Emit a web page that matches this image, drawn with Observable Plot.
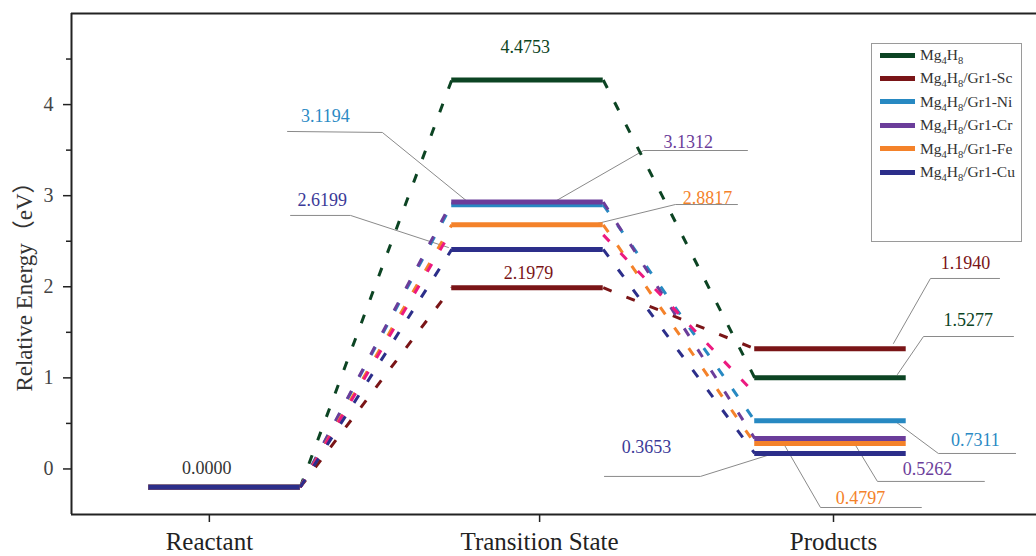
<!DOCTYPE html>
<html><head><meta charset="utf-8">
<script src="https://cdn.jsdelivr.net/npm/d3@7"></script>
<script src="https://cdn.jsdelivr.net/npm/@observablehq/plot@0.6"></script>
<style>
body{margin:0;background:#fff;}
#wrap{position:relative;width:1036px;height:556px;overflow:hidden;background:#fff;}
#legend{position:absolute;left:871px;top:43px;width:151px;height:199px;border:1px solid #9a9a9a;box-sizing:border-box;font-family:'Liberation Serif','Times New Roman',serif;font-size:15.5px;color:#333;background:#fff;}
.row{position:absolute;left:8px;height:20px;display:flex;align-items:center;white-space:nowrap;}
.sw{width:35px;height:5px;margin-right:5px;}
sub{font-size:0.68em;vertical-align:-0.35em;line-height:0;}
</style></head><body><div id="wrap"></div>
<script>
// ---------- data ----------
const series = ["Mg4H8","Mg4H8/Gr1-Sc","Mg4H8/Gr1-Ni","Mg4H8/Gr1-Cr","Mg4H8/Gr1-Fe","Mg4H8/Gr1-Cu"];
const seriesColors = ["#0c4423","#7a1517","#2789c2","#6b3d9a","#f4822a","#2c2e8a"];
// drawn level heights (schematic, as drawn in the picture)
const reactantLevels = [-0.2,-0.2,-0.2,-0.2,-0.2,-0.2];
const tsLevels = [4.27,1.99,2.90,2.93,2.68,2.41];
const productLevels = [1.00,1.32,0.53,0.335,0.28,0.17];
const stages = ["Reactant","Transition State","Products"];
const stageTicks = [0.95,2.04,3.01];
const stageFrom = [0.75,1.75,2.75];
const stageTo = [1.25,2.25,3.25];
// extra (unlabelled) pink dashed connector
const extraColor = "#ec1a80";
const extraLeft = [-0.2,2.62];
const extraRight = [2.57,0.83];
// energy annotations
const labelTexts = ["0.0000","4.4753","3.1194","3.1312","2.6199","2.8817","2.1979","1.1940","1.5277","0.7311","0.5262","0.4797","0.3653"];
const labelColors = ["#333333","#0c4423","#2b8ac4","#6b3d9a","#3b3a98","#f4822a","#7a1517","#7a1517","#0c4423","#2b8ac4","#6b3d9a","#f4822a","#3b3a98"];
const labelX = [0.941,1.993,1.333,2.531,1.323,2.594,2.003,3.446,3.455,3.478,3.320,3.099,2.393];
const labelY = [0.005,4.627,3.869,3.584,2.947,2.969,2.146,2.256,1.630,0.313,-0.005,-0.324,0.236];
const leaderX = [null,null,[1.208,1.521,1.818],[2.096,2.383,2.726],[1.218,1.416,1.739],[2.231,2.488,2.693],null,
  [3.208,3.330,3.558],[3.221,3.307,3.604],[3.214,3.356,3.611],[3.073,3.155,3.508],[2.845,2.967,3.300],[2.802,2.571,2.254]];
const leaderY = [null,null,[3.705,3.694,2.892],[2.947,3.496,3.496],[2.783,2.783,2.431],[2.695,2.903,2.903],null,
  [1.378,2.091,2.091],[1.037,1.454,1.454],[0.521,0.170,0.170],[0.313,-0.137,-0.137],[0.280,-0.423,-0.423],[0.159,-0.082,-0.082]];
const yTicks = [0,1,2,3,4];
const yMinorTicks = [0.5,1.5,2.5,3.5,4.5];
const xDomain = [0.495,3.68];
const yDomain = [-0.5,5.0];
const yTitle = "Relative Energy（eV）";

// ---------- build ----------
const serif = "'Liberation Serif','Times New Roman','Noto Sans CJK SC',serif";
const dash = "9,16";
const marks = [];
series.forEach((s, i) => {
  const lv = [reactantLevels[i], tsLevels[i], productLevels[i]];
  const conns = [0,1].map(j => ({x1: stageTo[j], y1: lv[j], x2: stageFrom[j+1], y2: lv[j+1]}));
  const levs = lv.map((v, j) => ({x1: stageFrom[j], x2: stageTo[j], y: v}));
  marks.push(Plot.link(conns, {x1: "x1", y1: "y1", x2: "x2", y2: "y2", stroke: seriesColors[i], strokeWidth: 3, strokeDasharray: dash}));
  if (i === 4) {
    const ex = [
      {x1: stageTo[0], y1: extraLeft[0], x2: stageFrom[1], y2: extraLeft[1]},
      {x1: stageTo[1], y1: extraRight[0], x2: stageFrom[2], y2: extraRight[1]}
    ];
    marks.push(Plot.link(ex, {x1: "x1", y1: "y1", x2: "x2", y2: "y2", stroke: extraColor, strokeWidth: 3, strokeDasharray: dash}));
  }
  marks.push(Plot.ruleY(levs, {y: "y", x1: "x1", x2: "x2", stroke: seriesColors[i], strokeWidth: 5}));
});

const leaderRows = [];
leaderX.forEach((xs, k) => { if (xs) xs.forEach((x, m) => leaderRows.push({k, x, y: leaderY[k][m]})); });
const labelRows = labelTexts.map((t, k) => ({t, x: labelX[k], y: labelY[k], c: labelColors[k]}));

const chart = Plot.plot({
  width: 1036, height: 556,
  marginLeft: 71, marginRight: 0, marginTop: 13, marginBottom: 42,
  style: {fontFamily: serif, background: "#fff", color: "#222", overflow: "visible"},
  x: {domain: xDomain, axis: null},
  y: {domain: yDomain, axis: null},
  marks: [
    Plot.line(leaderRows, {x: "x", y: "y", z: "k", stroke: "#8a8a8a", strokeWidth: 1}),
    ...marks,
    Plot.text(labelRows, {x: "x", y: "y", text: "t", fill: "c", fontSize: 18, textAnchor: "middle", lineAnchor: "middle"}),
    Plot.axisY({ticks: yMinorTicks, tickSize: 5, tickFormat: () => "", label: null, stroke: "#222", strokeWidth: 1.5}),
    Plot.axisY({ticks: yTicks, tickSize: 8, tickPadding: 10, fontSize: 20, tickFormat: d => String(d), label: null, fill: "#444", stroke: "#222", strokeWidth: 1.5}),
    Plot.axisX({ticks: stageTicks, tickFormat: d => stages[stageTicks.indexOf(d)], tickSize: 8, tickPadding: 10, fontSize: 25, label: null, fill: "#222", stroke: "#222", strokeWidth: 1.5}),
    Plot.ruleX([xDomain[0]], {stroke: "#222", strokeWidth: 2}),
    Plot.ruleY(yDomain, {stroke: "#222", strokeWidth: 2}),
    Plot.text([yTitle], {frameAnchor: "left", rotate: -90, dx: -47, dy: 17, fontSize: 23, fill: "#333", textAnchor: "middle", lineAnchor: "middle"})
  ]
});

const wrap = document.getElementById("wrap");
wrap.appendChild(chart);
const legend = document.createElement("div");
legend.id = "legend";
series.forEach((s, i) => {
  const row = document.createElement("div");
  row.className = "row";
  row.style.top = (1 + i * 23.4) + "px";
  const sw = document.createElement("span");
  sw.className = "sw";
  sw.style.background = seriesColors[i];
  const lab = document.createElement("span");
  lab.innerHTML = s.replace("Mg4H8", "Mg<sub>4</sub>H<sub>8</sub>");
  row.appendChild(sw); row.appendChild(lab);
  legend.appendChild(row);
});
wrap.appendChild(legend);
</script></body></html>
